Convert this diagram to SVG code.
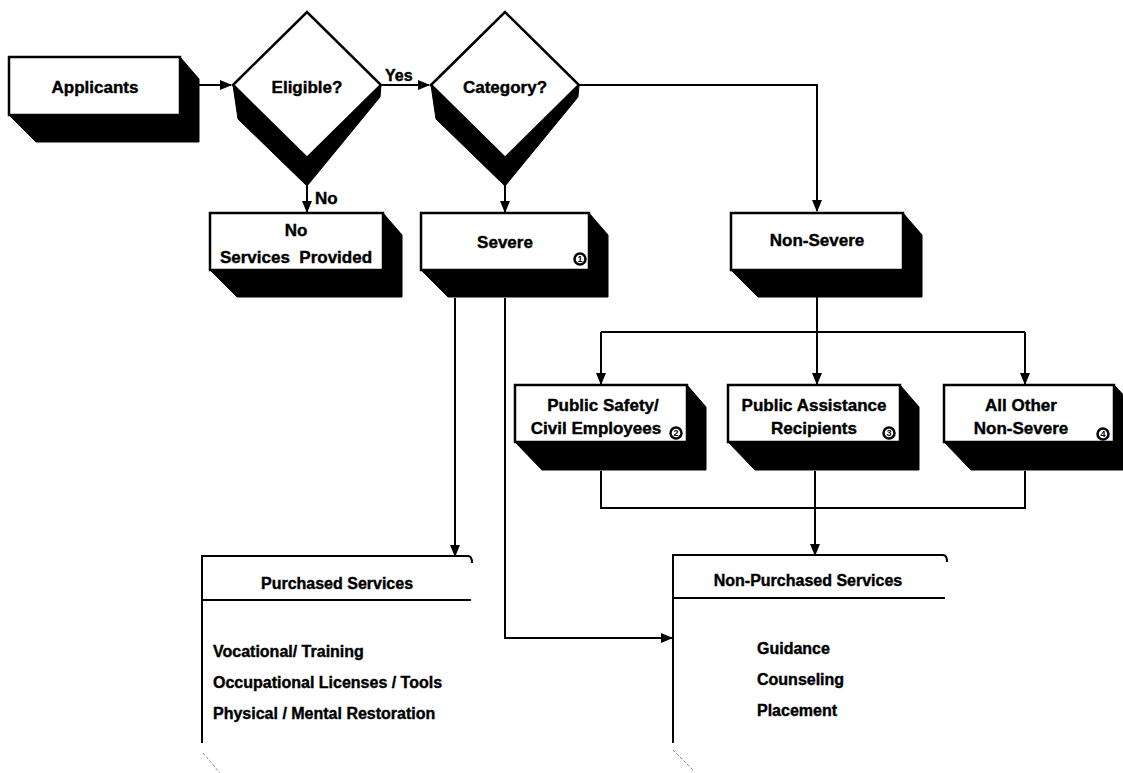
<svg xmlns="http://www.w3.org/2000/svg" width="1123" height="773" viewBox="0 0 1123 773">
<defs>
<marker id="arr" markerUnits="userSpaceOnUse" markerWidth="12" markerHeight="10" refX="11" refY="5" orient="auto">
<path d="M0,0 L12,5 L0,10 z" fill="#000"/>
</marker>
<style>
.t{font-family:"Liberation Sans",Arial,sans-serif;font-weight:bold;font-size:17px;fill:#000;stroke:#000;stroke-width:0.4}
.s{font-size:16px}
.c{text-anchor:middle}
.front{fill:#fff;stroke:#000;stroke-width:2.5}
.sh{fill:#000;stroke:#000;stroke-width:1}
.ln{fill:none;stroke:#000;stroke-width:2}
.num{fill:#fff;stroke:#000;stroke-width:2.5}
.nt{font-family:"Liberation Sans",Arial,sans-serif;font-weight:bold;font-size:9px;fill:#000;text-anchor:middle}
.faint{fill:none;stroke:#888;stroke-width:1;stroke-dasharray:3 2}
</style>
</defs>
<rect width="1123" height="773" fill="#fff"/>

<g id="connectors">
<path class="ln" d="M199,85 H231" marker-end="url(#arr)"/>
<path class="ln" d="M381,85 H429" marker-end="url(#arr)"/>
<path class="ln" d="M307,184 V212" marker-end="url(#arr)"/>
<path class="ln" d="M505,184 V212" marker-end="url(#arr)"/>
<path class="ln" d="M579,85 H817 V211" marker-end="url(#arr)"/>
<path class="ln" d="M817,297 V384" marker-end="url(#arr)"/>
<path class="ln" d="M601,332 H1025"/>
<path class="ln" d="M601,332 V384" marker-end="url(#arr)"/>
<path class="ln" d="M1025,332 V384" marker-end="url(#arr)"/>
<path class="ln" d="M601,471 V508 H1025 V471"/>
<path class="ln" d="M815,471 V555" marker-end="url(#arr)"/>
<path class="ln" d="M455,298 V556" marker-end="url(#arr)"/>
<path class="ln" d="M505,298 V638 H672" marker-end="url(#arr)"/>
<text class="t s" x="385" y="81">Yes</text>
<text class="t" x="315" y="204">No</text>
</g>

<g id="applicants">
<polygon class="sh" points="9,115 36,142 199,142 199,79 180,57"/>
<rect class="front" x="9" y="57" width="171" height="58"/>
<text class="t c" x="95" y="93">Applicants</text>
</g>

<g id="eligible">
<polygon class="sh" points="233,85 238,119 307,186 380,97 381,85 307,158"/>
<polygon class="front" points="233,85 307,12 381,85 307,158"/>
<text class="t c" x="307" y="93">Eligible?</text>
</g>

<g id="category">
<polygon class="sh" points="431,85 436,119 505,186 578,97 579,85 505,158"/>
<polygon class="front" points="431,85 505,12 579,85 505,158"/>
<text class="t c" x="505" y="93">Category?</text>
</g>

<g id="no-services">
<polygon class="sh" points="210,270 237,297 402,297 402,235 383,213"/>
<rect class="front" x="210" y="213" width="173" height="57"/>
<text class="t c" x="296" y="236">No</text>
<text class="t c" x="296" y="263" xml:space="preserve">Services  Provided</text>
</g>

<g id="severe">
<polygon class="sh" points="421,270 448,297 608,297 608,235 589,213"/>
<rect class="front" x="421" y="213" width="168" height="57"/>
<text class="t c" x="505" y="248">Severe</text>
<circle class="num" cx="580" cy="259" r="5.5"/>
<text class="nt" x="580" y="262">1</text>
</g>

<g id="non-severe">
<polygon class="sh" points="731,270 758,297 922,297 922,235 903,213"/>
<rect class="front" x="731" y="213" width="172" height="57"/>
<text class="t c" x="817" y="246">Non-Severe</text>
</g>

<g id="public-safety">
<polygon class="sh" points="515,442 542,470 706,470 706,407 687,385"/>
<rect class="front" x="515" y="385" width="172" height="57"/>
<text class="t c" x="603" y="411">Public Safety/</text>
<text class="t c" x="596" y="434">Civil Employees</text>
<circle class="num" cx="676" cy="433" r="5.5"/>
<text class="nt" x="676" y="436">2</text>
</g>

<g id="public-assistance">
<polygon class="sh" points="728,442 755,470 919,470 919,407 900,385"/>
<rect class="front" x="728" y="385" width="172" height="57"/>
<text class="t c" x="814" y="411">Public Assistance</text>
<text class="t c" x="814" y="434">Recipients</text>
<circle class="num" cx="889" cy="433" r="5.5"/>
<text class="nt" x="889" y="436">3</text>
</g>

<g id="all-other">
<polygon class="sh" points="944,442 971,470 1135,470 1135,407 1114,385"/>
<rect class="front" x="944" y="385" width="170" height="57"/>
<text class="t c" x="1021" y="411">All Other</text>
<text class="t c" x="1021" y="434">Non-Severe</text>
<circle class="num" cx="1103" cy="434" r="5.5"/>
<text class="nt" x="1103" y="437">4</text>
</g>

<g id="purchased">
<path class="ln" d="M202,743 V556 H468 Q472,556 472,563" stroke-width="2.5"/>
<path class="ln" d="M202,600 H471"/>
<text class="t c s" x="337" y="589">Purchased Services</text>
<text class="t s" x="213" y="657">Vocational/ Training</text>
<text class="t s" x="213" y="688">Occupational Licenses / Tools</text>
<text class="t s" x="213" y="719">Physical / Mental Restoration</text>
<line class="faint" x1="203" y1="753" x2="220" y2="773"/>
</g>

<g id="non-purchased">
<path class="ln" d="M673,743 V555 H943 Q947,555 947,562" stroke-width="2.5"/>
<path class="ln" d="M673,598 H945"/>
<text class="t c s" x="808" y="586">Non-Purchased Services</text>
<text class="t s" x="757" y="654">Guidance</text>
<text class="t s" x="757" y="685">Counseling</text>
<text class="t s" x="757" y="716">Placement</text>
<line class="faint" x1="673" y1="750" x2="693" y2="770"/>
</g>
</svg>
